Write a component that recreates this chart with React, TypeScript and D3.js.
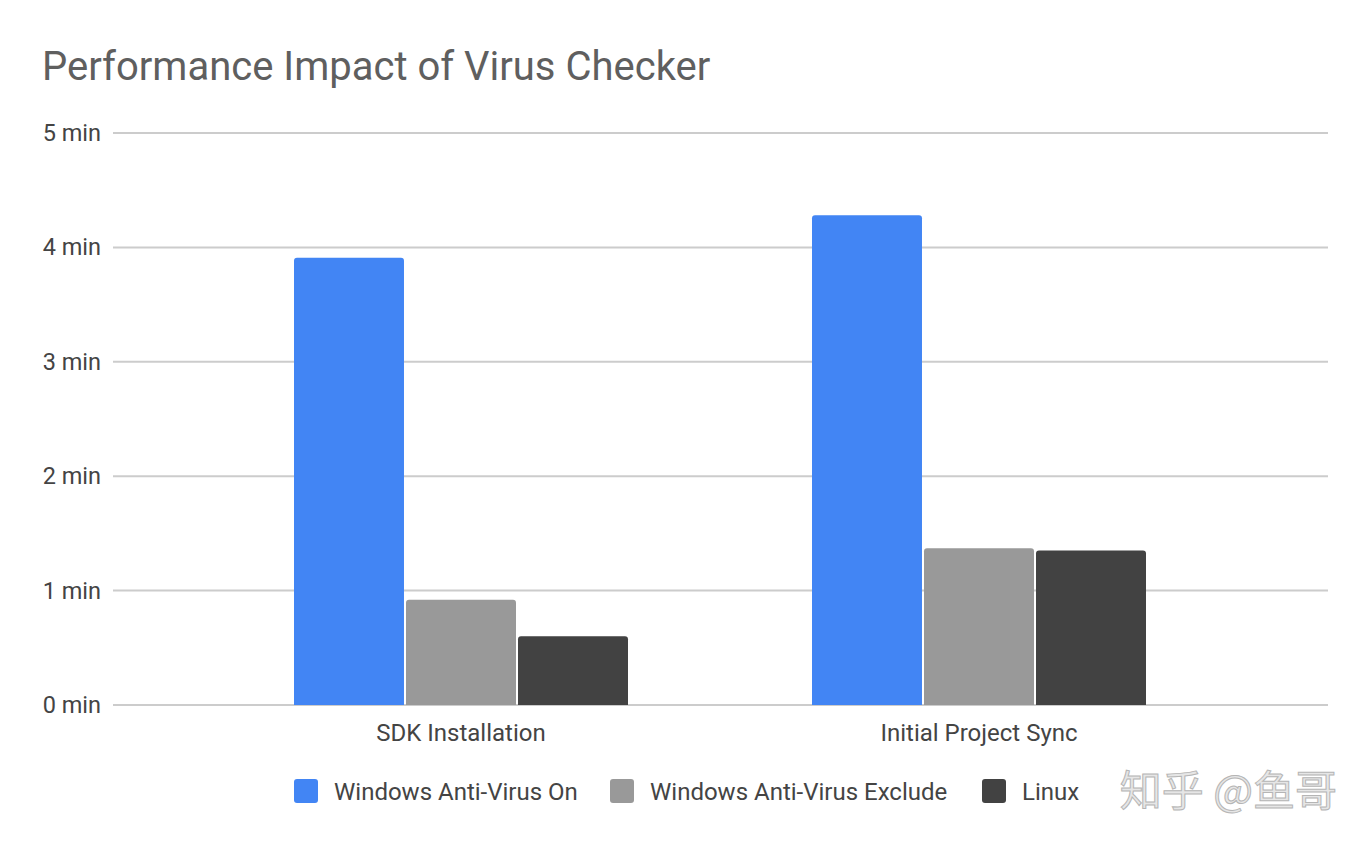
import { useEffect, useRef } from "react";
import * as d3 from "d3";

const categories = ["SDK Installation", "Initial Project Sync"];
const seriesNames = ["Windows Anti-Virus On", "Windows Anti-Virus Exclude", "Linux"];
const seriesColors = ["#4285f4", "#999999", "#424242"];
const antiVirusOn = [3.91, 4.28];
const antiVirusExclude = [0.92, 1.37];
const linux = [0.6, 1.35];
const yTicks = [0, 1, 2, 3, 4, 5];

const W = 1372;
const H = 848;

export default function App() {
  const ref = useRef<SVGSVGElement | null>(null);

  useEffect(() => {
    const svg = d3.select(ref.current);
    svg.selectAll("*").remove();

    const font = "Roboto, 'Noto Sans', sans-serif";
    const margin = { left: 113, right: 44, top: 133, bottom: 143 };
    const plotRight = W - margin.right;

    const y = d3.scaleLinear().domain([0, 5]).range([H - margin.bottom, margin.top]);

    // category bands (groups are centred at ~461 and ~979)
    const x0 = d3.scaleBand<string>().domain(categories).range([202, 1238]).paddingInner(0).paddingOuter(0);
    const x1 = d3
      .scaleBand<number>()
      .domain([0, 1, 2])
      .range([(x0.bandwidth() - 334) / 2, (x0.bandwidth() + 334) / 2])
      .paddingInner(0.018);

    svg
      .append("rect")
      .attr("width", W)
      .attr("height", H)
      .attr("fill", "#fff");

    // title
    svg
      .append("text")
      .attr("x", 42)
      .attr("y", 80)
      .attr("font-family", font)
      .attr("font-size", 40)
      .attr("fill", "#5f5f5f")
      .text("Performance Impact of Virus Checker");

    // gridlines + y labels
    const grid = svg.append("g");
    grid
      .selectAll("line")
      .data(yTicks)
      .enter()
      .append("line")
      .attr("x1", margin.left)
      .attr("x2", plotRight)
      .attr("y1", d => y(d))
      .attr("y2", d => y(d))
      .attr("stroke", "#cccccc")
      .attr("stroke-width", 2);

    grid
      .selectAll("text")
      .data(yTicks)
      .enter()
      .append("text")
      .attr("x", 101)
      .attr("y", d => y(d) + 8)
      .attr("text-anchor", "end")
      .attr("font-family", font)
      .attr("font-size", 23.5)
      .attr("fill", "#444")
      .text(d => `${d} min`);

    const series = [antiVirusOn, antiVirusExclude, linux];
    const rows = categories.flatMap((c, ci) =>
      series.map((s, si) => ({ cat: c, si, value: s[ci] }))
    );

    const r = 3;
    svg
      .append("g")
      .selectAll("path")
      .data(rows)
      .enter()
      .append("path")
      .attr("fill", d => seriesColors[d.si])
      .attr("d", d => {
        const bx = (x0(d.cat) ?? 0) + (x1(d.si) ?? 0);
        const bw = x1.bandwidth();
        const top = y(d.value);
        const bottom = y(0);
        return `M${bx},${bottom}V${top + r}Q${bx},${top} ${bx + r},${top}H${bx + bw - r}Q${bx + bw},${top} ${bx + bw},${top + r}V${bottom}Z`;
      });

    // category labels
    svg
      .append("g")
      .selectAll("text")
      .data(categories)
      .enter()
      .append("text")
      .attr("x", d => (x0(d) ?? 0) + x0.bandwidth() / 2)
      .attr("y", 741)
      .attr("text-anchor", "middle")
      .attr("font-family", font)
      .attr("font-size", 24)
      .attr("fill", "#444")
      .text(d => d);

    // legend
    const legendX = [294, 610, 982];
    const legend = svg
      .append("g")
      .selectAll("g")
      .data(seriesNames)
      .enter()
      .append("g")
      .attr("transform", (_, i) => `translate(${legendX[i]},779)`);
    legend
      .append("rect")
      .attr("width", 24)
      .attr("height", 24)
      .attr("rx", 3)
      .attr("fill", (_, i) => seriesColors[i]);
    legend
      .append("text")
      .attr("x", 40)
      .attr("y", 21)
      .attr("font-family", font)
      .attr("font-size", 24)
      .attr("fill", "#444")
      .text(d => d);

    // watermark
    svg
      .append("text")
      .attr("x", 1337)
      .attr("y", 806)
      .attr("text-anchor", "end")
      .attr("font-family", "'Noto Sans CJK SC', sans-serif")
      .attr("font-size", 42)
      .attr("fill", "#e6e6e6")
      .attr("stroke", "#b5b5b5")
      .attr("stroke-width", 1)
      .text("知乎 @鱼哥");
  }, []);

  return <svg ref={ref} width={W} height={H} style={{ display: "block", margin: -8 }} />;
}
